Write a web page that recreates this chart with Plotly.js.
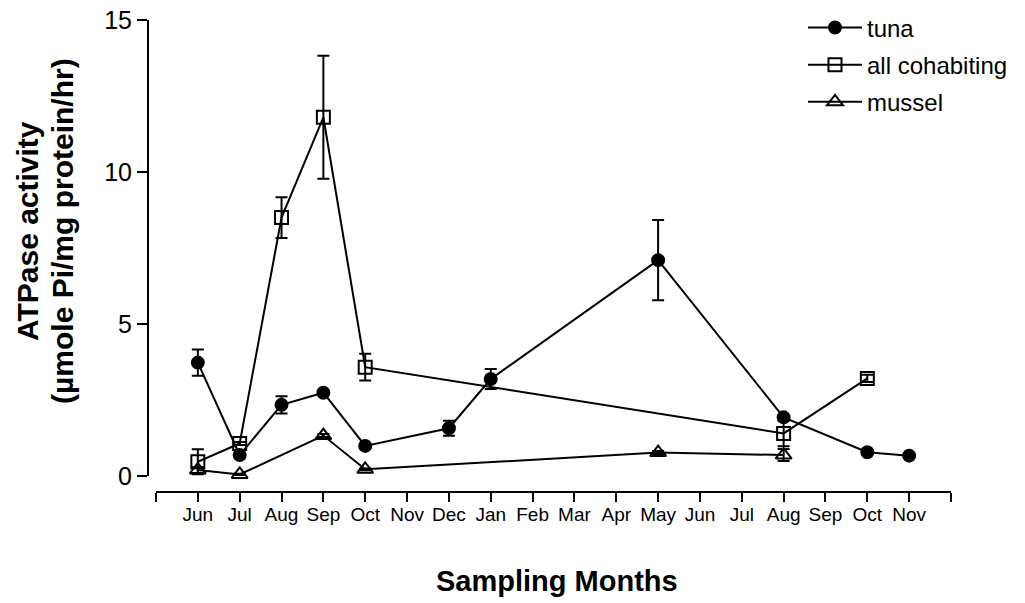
<!DOCTYPE html>
<html>
<head>
<meta charset="utf-8">
<script src="https://cdn.plot.ly/plotly-3.0.1.min.js"></script>
<style>html,body{margin:0;padding:0;background:#fff;}#chart{width:1025px;height:603px;}</style>
</head>
<body>
<div id="chart"></div>
<script>
// Month axis: index 0 is the axis start (unlabelled), 1..18 = Jun .. Nov of the following year, 19 = axis end
const tickIdx = [0,1,2,3,4,5,6,7,8,9,10,11,12,13,14,15,16,17,18,19];
const tickLabels = ['', 'Jun','Jul','Aug','Sep','Oct','Nov','Dec','Jan','Feb','Mar','Apr','May','Jun','Jul','Aug','Sep','Oct','Nov',''];

// tuna
const tunaMonth = [1, 2, 3, 4, 5, 7, 8, 12, 15, 17, 18];
const tunaVal   = [3.73, 0.69, 2.34, 2.74, 0.99, 1.57, 3.19, 7.1, 1.93, 0.78, 0.67];
const tunaErr   = [0.43, 0.05, 0.28, 0.05, 0.05, 0.25, 0.33, 1.32, 0.05, 0.05, 0.05];

// all cohabiting
const cohabMonth = [1, 2, 3, 4, 5, 15, 17];
const cohabVal   = [0.47, 1.07, 8.5, 11.8, 3.58, 1.4, 3.21];
const cohabErr   = [0.41, 0.05, 0.67, 2.02, 0.44, 0.42, 0.12];

// mussel
const musselMonth = [1, 2, 4, 5, 12, 15];
const musselVal   = [0.2, 0.05, 1.33, 0.22, 0.77, 0.69];
const musselErr   = [0.1, 0.02, 0.05, 0.03, 0.05, 0.2];

const FONT = 'Liberation Sans, Arial, Helvetica, sans-serif';

function series(name, xs, ys, errs, symbol, size, group) {
  return {
    type: 'scatter', mode: 'lines+markers', name: name,
    x: xs, y: ys, legendgroup: group, cliponaxis: false,
    line: {color: '#000', width: 2},
    marker: {symbol: symbol, size: size, color: '#000',
             line: {color: '#000', width: 2}},
    error_y: {type: 'data', array: errs, visible: true, color: '#000', thickness: 2, width: 6}
  };
}

const traces = [
  series('tuna', tunaMonth, tunaVal, tunaErr, 'circle', 12, 'g1'),
  series('all cohabiting', cohabMonth, cohabVal, cohabErr, 'square-open', 13, 'g2'),
  series('mussel', musselMonth, musselVal, musselErr, 'triangle-up-open', 14, 'g3')
];

const layout = {
  width: 1025, height: 603,
  paper_bgcolor: '#fff', plot_bgcolor: 'rgba(0,0,0,0)',
  margin: {l: 148, r: 74, t: 20, b: 111, autoexpand: false},
  font: {family: FONT, color: '#000'},
  showlegend: true,
  legend: {x: 0.8157, y: 1.031, xanchor: 'left', yanchor: 'top',
           font: {size: 24, family: FONT, color: '#000'},
           bgcolor: 'rgba(0,0,0,0)', borderwidth: 0,
           itemwidth: 54, traceorder: 'grouped', tracegroupgap: 3},
  xaxis: {
    domain: [0.00996, 1], range: [0, 19], anchor: 'free', position: 0,
    showline: true, linecolor: '#000', linewidth: 2, mirror: false,
    ticks: 'outside', ticklen: 9, tickwidth: 2, tickcolor: '#000',
    tickmode: 'array', tickvals: tickIdx, ticktext: tickLabels,
    tickfont: {size: 19, family: FONT, color: '#000'}, ticklabelstandoff: -4,
    showgrid: false, zeroline: false, fixedrange: true
  },
  yaxis: {
    domain: [0.0339, 1], range: [0, 15], anchor: 'free', position: 0,
    showline: true, linecolor: '#000', linewidth: 2,
    ticks: 'outside', ticklen: 10, tickwidth: 2, tickcolor: '#000',
    tickmode: 'array', tickvals: [0, 5, 10, 15], ticktext: ['0', '5', '10', '15'],
    tickfont: {size: 25, family: FONT, color: '#000'},
    showgrid: false, zeroline: false, fixedrange: true
  },
  annotations: [
    {text: '<b>ATPase activity</b>', textangle: -90,
     xref: 'paper', yref: 'paper', x: -0.1494, y: 0.553, xanchor: 'center', yanchor: 'middle',
     showarrow: false, font: {size: 30, family: FONT, color: '#000'}},
    {text: '<b>(µmole Pi/mg protein/hr)</b>', textangle: -90,
     xref: 'paper', yref: 'paper', x: -0.1059, y: 0.553, xanchor: 'center', yanchor: 'middle',
     showarrow: false, font: {size: 30, family: FONT, color: '#000'}},
    {text: '<b>Sampling Months</b>',
     xref: 'paper', yref: 'paper', x: 0.509, y: -0.189, xanchor: 'center', yanchor: 'middle',
     showarrow: false, font: {size: 29, family: FONT, color: '#000'}}
  ]
};

Plotly.newPlot('chart', traces, layout, {displayModeBar: false, staticPlot: true});
</script>
</body>
</html>
